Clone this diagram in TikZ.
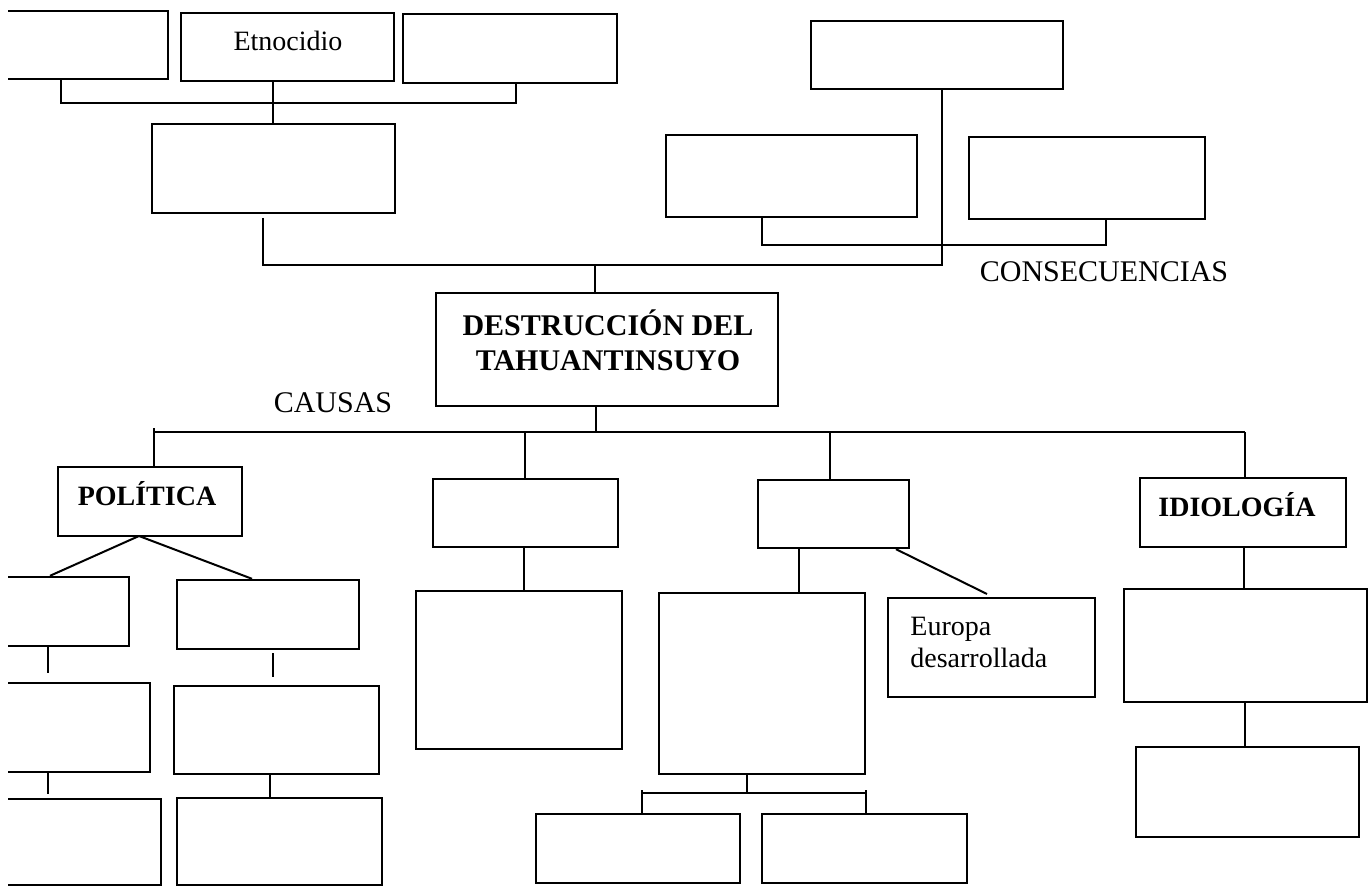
\documentclass[tikz,border=0pt]{standalone}
\usepackage{fontspec}
\setmainfont{Liberation Serif}
\usetikzlibrary{fit}
\begin{document}
\begin{tikzpicture}[x=0.5pt,y=-0.5pt,
  box/.style={draw, line width=1.2pt, inner sep=0pt},
  conn/.style={line width=1pt},
  lbl/.style={inner sep=0pt, font=\fontsize{15pt}{17.5pt}\selectfont},
  lblb/.style={inner sep=0pt, font=\fontsize{15pt}{17.5pt}\selectfont\bfseries},
  lblsm/.style={inner sep=0pt, font=\fontsize{14pt}{16pt}\selectfont},
  lblsmb/.style={inner sep=0pt, font=\fontsize{14pt}{16pt}\selectfont\bfseries}]
\useasboundingbox (0,0) rectangle (1370,887);
\clip (8,0) rectangle (1370,887);

% ---- boxes ----
\node[box, fit={(0,11) (168,79)}] (t1) {};
\node[box, fit={(181,13) (394,81)}] (etno) {};
\node[box, fit={(403,14) (617,83)}] (t3) {};
\node[box, fit={(152,124) (395,213)}] (t4) {};
\node[box, fit={(811,21) (1063,89)}] (tr) {};
\node[box, fit={(666,135) (917,217)}] (cl) {};
\node[box, fit={(969,137) (1205,219)}] (cr) {};
\node[box, fit={(436,293) (778,406)}] (dest) {};
\node[box, fit={(58,467) (242,536)}] (pol) {};
\node[box, fit={(433,479) (618,547)}] (m1) {};
\node[box, fit={(758,480) (909,548)}] (m2) {};
\node[box, fit={(1140,478) (1346,547)}] (ideo) {};
\node[box, fit={(0,577) (129,646)}] (p1) {};
\node[box, fit={(177,580) (359,649)}] (p2) {};
\node[box, fit={(0,683) (150,772)}] (p3) {};
\node[box, fit={(174,686) (379,774)}] (p4) {};
\node[box, fit={(0,799) (161,885)}] (p5) {};
\node[box, fit={(177,798) (382,885)}] (p6) {};
\node[box, fit={(416,591) (622,749)}] (m1c) {};
\node[box, fit={(659,593) (865,774)}] (m2c) {};
\node[box, fit={(888,598) (1095,697)}] (eur) {};
\node[box, fit={(536,814) (740,883)}] (mb1) {};
\node[box, fit={(762,814) (967,883)}] (mb2) {};
\node[box, fit={(1124,589) (1367,702)}] (i1) {};
\node[box, fit={(1136,747) (1359,837)}] (i2) {};

% ---- texts ----
\node[lblsm, anchor=base] (etnoT) at (288,51) {Etnocidio};
\node[lbl, anchor=base] (causas) at (333,413) {CAUSAS};
\node[lbl, anchor=base] (cons) at (1104,282) {CONSECUENCIAS};
\node[lblb, align=center] (destT) at (608,340) {DESTRUCCIÓN DEL\\TAHUANTINSUYO};
\node[lblsmb, anchor=base] (polT) at (147,505) {POLÍTICA};
\node[lblsmb, anchor=base] (ideoT) at (1237,516) {IDIOLOGÍA};
\node[lblsm, align=left, anchor=west] (eurT) at (910,642) {Europa\\desarrollada};

% ---- connectors (top) ----
\draw[conn] (61,0 |- t1.south) -- (61,103) -- (516,103) -- (516,0 |- t3.south);
\draw[conn] (273,0 |- etno.south) -- (273,0 |- t4.north);
\coordinate (t4foot) at (263,218);
\draw[conn] (t4foot) -- (263,265) -- (942,265) -- (942,0 |- tr.south);
\draw[conn] (595,265) -- (595,0 |- dest.north);
\draw[conn] (762,0 |- cl.south) -- (762,245) -- (1106,245) -- (1106,0 |- cr.south);

% ---- connectors (causes) ----
\draw[conn] (596,0 |- dest.south) -- (596,432);
\draw[conn] (154,432) -- (1245,432);
\draw[conn] (154,428) -- (154,0 |- pol.north);
\draw[conn] (525,432) -- (525,0 |- m1.north);
\draw[conn] (830,432) -- (830,0 |- m2.north);
\draw[conn] (1245,432) -- (1245,0 |- ideo.north);

% ---- politica branch ----
\coordinate (polfoot) at (139,536);
\draw[conn] (polfoot) -- (50,0 |- p1.north);
\draw[conn] (polfoot) -- (252,0 |- p2.north);
\draw[conn] (48,0 |- p1.south) -- (48,673);
\draw[conn] (273,653) -- (273,677);
\draw[conn] (48,0 |- p3.south) -- (48,794);
\draw[conn] (270,0 |- p4.south) -- (270,0 |- p6.north);

% ---- middle branches ----
\draw[conn] (524,0 |- m1.south) -- (524,0 |- m1c.north);
\draw[conn] (799,0 |- m2.south) -- (799,0 |- m2c.north);
\coordinate (eurtip) at (987,594);
\draw[conn] (896,0 |- m2.south) -- (eurtip);
\draw[conn] (747,0 |- m2c.south) -- (747,793);
\draw[conn] (642,793) -- (866,793);
\draw[conn] (642,790) -- (642,0 |- mb1.north);
\draw[conn] (866,790) -- (866,0 |- mb2.north);

% ---- ideologia branch ----
\draw[conn] (1244,0 |- ideo.south) -- (1244,0 |- i1.north);
\draw[conn] (1245,0 |- i1.south) -- (1245,0 |- i2.north);
\end{tikzpicture}
\end{document}
